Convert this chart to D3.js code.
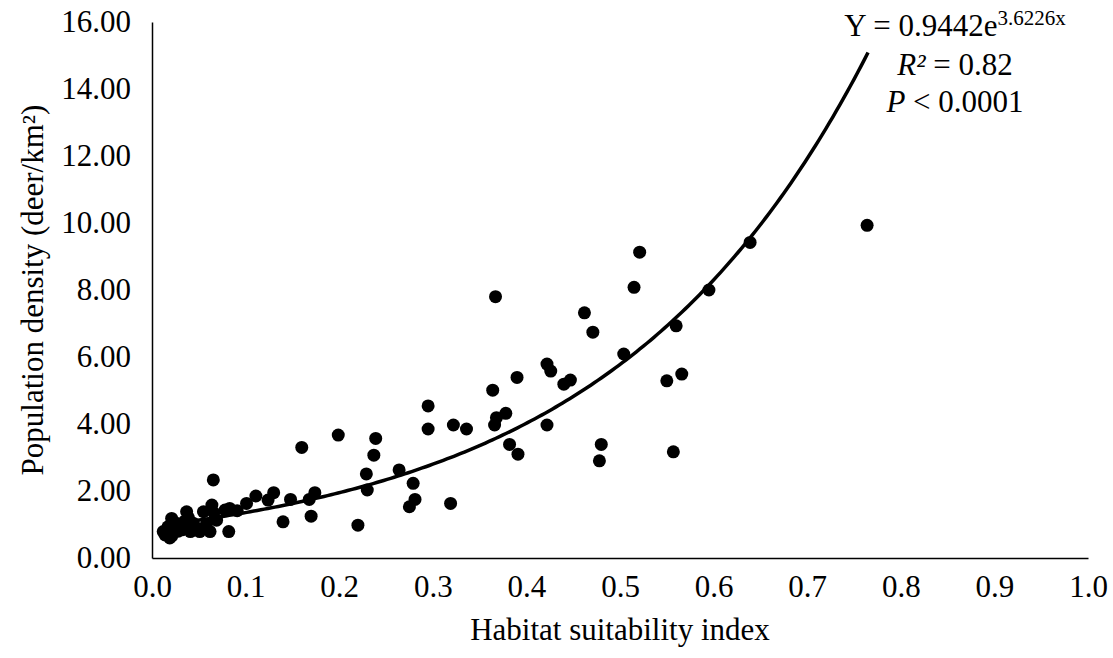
<!DOCTYPE html>
<html><head><meta charset="utf-8">
<script src="https://cdn.jsdelivr.net/npm/d3@7"></script>
<style>body{margin:0;background:#fff;} text{font-family:"Liberation Serif","Times New Roman",serif;fill:#000;}</style>
</head><body><svg id="c" width="1113" height="658"></svg>
<script>
const hsi = [0.012,0.014,0.016,0.019,0.021,0.017,0.021,0.024,0.026,0.028,0.032,0.033,0.035,0.037,0.039,0.041,0.044,0.047,0.051,0.055,0.058,0.062,0.064,0.066,0.069,0.0655,0.078,0.082,0.083,0.091,0.101,0.111,0.124,0.13,0.14,0.148,0.16,0.168,0.17,0.174,0.199,0.22,0.229,0.23,0.237,0.239,0.264,0.275,0.279,0.281,0.295,0.295,0.319,0.322,0.336,0.364,0.366,0.367,0.368,0.378,0.382,0.39,0.391,0.422,0.422,0.426,0.44,0.447,0.462,0.471,0.478,0.48,0.504,0.515,0.521,0.55,0.557,0.56,0.566,0.595,0.639,0.764];
const density = [0.79,0.69,0.74,0.6,0.65,0.93,1.18,1.0,1.04,0.8,0.84,0.93,1.1,1.38,1.2,0.79,1.04,0.9,0.79,1.38,1.0,0.79,1.58,1.35,1.13,2.33,1.43,0.79,1.48,1.41,1.63,1.85,1.73,1.95,1.08,1.75,3.3,1.75,1.25,1.95,3.67,0.98,2.51,2.03,3.07,3.57,2.63,1.53,2.23,1.75,4.54,3.85,1.63,3.97,3.85,5.01,3.97,7.8,4.19,4.32,3.39,5.39,3.1,5.79,3.97,5.58,5.19,5.31,7.32,6.74,2.9,3.39,6.09,8.08,9.13,5.29,3.17,6.93,5.49,8.0,9.42,9.93];
const xTicks = [0,0.1,0.2,0.3,0.4,0.5,0.6,0.7,0.8,0.9,1.0];
const yTicks = [0,2,4,6,8,10,12,14,16];
const fitA = 0.9442, fitB = 3.6226;
const fitRange = [0.015, 0.765];

const FONT = "Liberation Serif";
const svg = d3.select("#c");
const x = d3.scaleLinear().domain([0,1]).range([152,1088]);
const y = d3.scaleLinear().domain([0,16]).range([558,22]);

// axes
const xa = svg.append("g").attr("transform",`translate(0,${y(0)})`)
  .call(d3.axisBottom(x).tickValues(xTicks).tickSize(0).tickPadding(17).tickFormat(d3.format(".1f")));
xa.select(".domain").attr("stroke","#000").attr("stroke-width",1.5);
xa.selectAll("text").attr("font-size",31).attr("font-family",FONT).style("font-family",FONT);
const ya = svg.append("g").attr("transform",`translate(${x(0)},0)`)
  .call(d3.axisLeft(y).tickValues(yTicks).tickSize(0).tickPadding(21).tickFormat(d3.format(".2f")));
ya.select(".domain").attr("stroke","#000").attr("stroke-width",1.5);
ya.selectAll("text").attr("font-size",31).attr("font-family",FONT).style("font-family",FONT);

// points
svg.append("g").selectAll("circle").data(hsi.map((v,i)=>[v,density[i]])).join("circle")
  .attr("cx",d=>x(d[0])).attr("cy",d=>y(d[1])).attr("r",6.5).attr("fill","#000");

// fit curve
const fx = d3.range(0,201).map(i=>fitRange[0]+(fitRange[1]-fitRange[0])*i/200);
svg.append("path").datum(fx).attr("fill","none").attr("stroke","#000").attr("stroke-width",3.5)
  .attr("d", d3.line().x(d=>x(d)).y(d=>y(fitA*Math.exp(fitB*d))));

// titles
svg.append("text").attr("x",620).attr("y",640).attr("text-anchor","middle").attr("font-size",31).attr("font-family",FONT).text("Habitat suitability index");
svg.append("text").attr("transform","translate(43,290) rotate(-90)").attr("text-anchor","middle").attr("font-size",31).attr("font-family",FONT).text("Population density (deer/km²)");

// equation
const eq = svg.append("text").attr("x",955).attr("y",36).attr("text-anchor","middle").attr("font-size",31).attr("font-family",FONT);
eq.append("tspan").text("Y = 0.9442e");
eq.append("tspan").attr("font-size",21).attr("dy",-11).text("3.6226x");
const r2 = svg.append("text").attr("x",955).attr("y",75).attr("text-anchor","middle").attr("font-size",31).attr("font-family",FONT);
r2.append("tspan").attr("font-style","italic").text("R²");
r2.append("tspan").text(" = 0.82");
const p = svg.append("text").attr("x",955).attr("y",112).attr("text-anchor","middle").attr("font-size",31).attr("font-family",FONT);
p.append("tspan").attr("font-style","italic").text("P");
p.append("tspan").text(" < 0.0001");
</script></body></html>
